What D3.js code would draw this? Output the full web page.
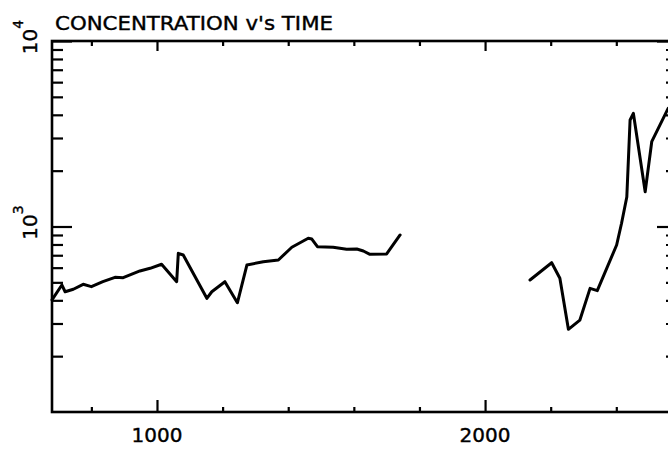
<!DOCTYPE html>
<html>
<head>
<meta charset="utf-8">
<script src="https://cdn.jsdelivr.net/npm/d3@7"></script>
<style>
  html, body { margin: 0; padding: 0; background: #fff; overflow: hidden; }
  svg { display: block; }
  text { font-family: "DejaVu Sans", "Liberation Sans", sans-serif; fill: #000; }
</style>
</head>
<body>
<svg id="chart" width="668" height="451"></svg>
<script>
// ---- data ----
const titleText = "CONCENTRATION v's TIME";

const timeA = [680, 710, 720, 745, 775, 800, 835, 872, 897, 948, 979, 1014, 1060, 1065, 1080,
               1152, 1167, 1207, 1245, 1274, 1324, 1370, 1411, 1461, 1472, 1489, 1537, 1578,
               1609, 1629, 1649, 1700, 1741];
const concA = [402, 484, 445, 459, 488, 474, 504, 532, 530, 576, 595, 626, 504, 717, 702,
               410, 445, 504, 388, 620, 646, 660, 773, 864, 856, 778, 773, 754,
               756, 738, 708, 711, 900];

const timeB = [2137, 2203, 2228, 2254, 2289, 2320, 2342, 2401, 2416, 2432, 2442, 2452, 2488, 2508, 2558];
const concB = [515, 638, 526, 279, 313, 464, 451, 795, 1041, 1443, 3751, 4076, 1540, 2865, 4337];

const xMajorTicks = [1000, 2000];
const xMinorTicks = [800, 1200, 1400, 1600, 1800, 2200, 2400];
const xTickLabels = ["1000", "2000"];
const yMajorTicks = [1000, 10000];
const yMinorTicks = [200, 300, 400, 500, 600, 700, 800, 900,
                     2000, 3000, 4000, 5000, 6000, 7000, 8000, 9000];
const yTickExponents = ["3", "4"];

// ---- layout ----
const M = { left: 52, right: 677, top: 41, bottom: 412 };
const svg = d3.select("#chart");

const x = d3.scaleLinear().domain([680, 2585]).range([M.left, M.right]);
const y = d3.scaleLog().domain([100, 10000]).range([M.bottom, M.top]);

const axisStroke = 2.6;

function styleAxis(g) {
  g.select(".domain").remove();
  g.selectAll(".tick text").remove();
  g.selectAll(".tick line").attr("stroke", "#000").attr("stroke-width", 2.2);
}

// bottom axis (ticks pointing up, inside)
svg.append("g").attr("transform", `translate(0,${M.bottom})`)
  .call(d3.axisTop(x).tickValues(xMajorTicks).tickSize(12)).call(styleAxis);
svg.append("g").attr("transform", `translate(0,${M.bottom})`)
  .call(d3.axisTop(x).tickValues(xMinorTicks).tickSize(5)).call(styleAxis);
// top axis (ticks pointing down, inside)
svg.append("g").attr("transform", `translate(0,${M.top})`)
  .call(d3.axisBottom(x).tickValues(xMajorTicks).tickSize(10)).call(styleAxis);
svg.append("g").attr("transform", `translate(0,${M.top})`)
  .call(d3.axisBottom(x).tickValues(xMinorTicks).tickSize(5)).call(styleAxis);
// left axis (ticks pointing right)
svg.append("g").attr("transform", `translate(${M.left},0)`)
  .call(d3.axisRight(y).tickValues(yMajorTicks).tickSize(20)).call(styleAxis);
svg.append("g").attr("transform", `translate(${M.left},0)`)
  .call(d3.axisRight(y).tickValues(yMinorTicks).tickSize(11)).call(styleAxis);
// right axis (ticks pointing left)
svg.append("g").attr("transform", `translate(${M.right},0)`)
  .call(d3.axisLeft(y).tickValues(yMajorTicks).tickSize(20)).call(styleAxis);
svg.append("g").attr("transform", `translate(${M.right},0)`)
  .call(d3.axisLeft(y).tickValues(yMinorTicks).tickSize(11)).call(styleAxis);

// frame
svg.append("rect")
  .attr("x", M.left).attr("y", M.top)
  .attr("width", M.right - M.left).attr("height", M.bottom - M.top)
  .attr("fill", "none").attr("stroke", "#000").attr("stroke-width", axisStroke);

// x tick labels
svg.append("g").selectAll("text").data(xMajorTicks).join("text")
  .attr("x", d => x(d)).attr("y", 442)
  .attr("text-anchor", "middle")
  .attr("font-size", 20)
  .attr("stroke", "#000").attr("stroke-width", 0.4)
  .text((d, i) => xTickLabels[i]);

// y tick labels (rotated 10^n)
yMajorTicks.forEach((v, i) => {
  const t = svg.append("text")
    .attr("transform", `translate(37,${y(v) - 4}) rotate(-90)`)
    .attr("text-anchor", "middle")
    .attr("font-size", 20)
    .attr("stroke", "#000").attr("stroke-width", 0.4);
  t.append("tspan").text("10");
  t.append("tspan").attr("dy", -14).attr("font-size", 14).text(yTickExponents[i]);
});

// title
svg.append("text")
  .attr("x", 55).attr("y", 30)
  .attr("font-size", 19)
  .attr("textLength", 278).attr("lengthAdjust", "spacingAndGlyphs")
  .attr("stroke", "#000").attr("stroke-width", 0.4)
  .text(titleText);

// data lines
const line = d3.line().x(d => x(d[0])).y(d => y(d[1]));
[[timeA, concA], [timeB, concB]].forEach(([t, c]) => {
  svg.append("path")
    .datum(t.map((v, i) => [v, c[i]]))
    .attr("fill", "none")
    .attr("stroke", "#000")
    .attr("stroke-width", 3)
    .attr("stroke-linejoin", "round")
    .attr("stroke-linecap", "round")
    .attr("d", line);
});
</script>
</body>
</html>
